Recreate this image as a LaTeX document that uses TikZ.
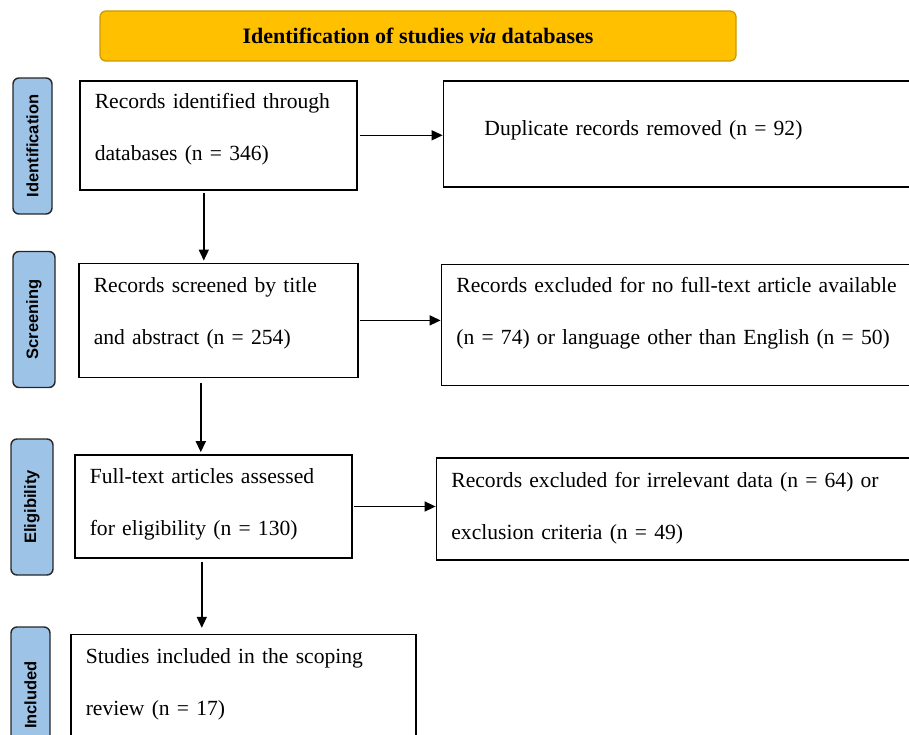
\documentclass[tikz,border=0pt]{standalone}
\usepackage{fontspec}
\setmainfont{Liberation Serif}
\newfontfamily\phasefont{Liberation Sans}
\usetikzlibrary{positioning, arrows.meta}
\definecolor{bannergold}{HTML}{FFC000}
\definecolor{bannerrim}{HTML}{C99A00}
\definecolor{phaseblue}{HTML}{9DC3E6}
\tikzset{
    >={Triangle[length=11pt, width=10pt]},
    every edge/.style={draw, ->, line width=1.5pt},
    box/.style={draw, line width=1.6pt, inner xsep=15pt, inner ysep=0pt,
        align=left, font=\fontsize{21.6}{52}\selectfont},
    phase/.style={draw=black!85, line width=1.4pt, fill=phaseblue,
        rounded corners=6pt, rotate=90, minimum width=136pt, inner sep=0pt,
        font=\phasefont\bfseries\fontsize{16.5}{18}\selectfont},
    banner/.style={draw=bannerrim, line width=1.3pt, fill=bannergold,
        rounded corners=6pt, minimum width=636pt, minimum height=50pt,
        font=\bfseries\fontsize{22}{26}\selectfont},
}

\begin{document}
\begin{tikzpicture}[x=1pt, y=1pt]
        \useasboundingbox (0,0) rectangle (909,-735);
        \clip (0,0) rectangle (909,-735);

        \node[banner] (title) at (418,-36) {Identification of studies \textit{via} databases};

        \node[phase, minimum height=39pt] (identphase) at (32.5,-146) {Identification};
        \node[phase, minimum height=42pt] (screenphase) at (34,-319.5) {Screening};
        \node[phase, minimum height=42pt] (eligphase) at (32,-507) {Eligibility};
        \node[phase, minimum height=39pt] (inclphase) at (30.5,-695) {Included};

        \node[box, text width=247pt, text height=28pt, text depth=81pt, anchor=north west] (records) at (79,-80) {Records identified through\\databases (n = 346)};
        \node[box, text width=249pt, text height=29pt, text depth=85pt, below=72pt of records.south west, anchor=north west, xshift=-1pt] (screen) {Records screened by title\\and abstract (n = 254)};
        \node[box, text width=247pt, text height=28pt, text depth=75pt, below=76pt of screen.south west, anchor=north west, xshift=-4pt] (assess) {Full-text articles assessed\\for eligibility (n = 130)};
        \node[box, text width=315pt, text height=29pt, text depth=101pt, below=75pt of assess.south west, anchor=north west, xshift=-4pt] (included) {Studies included in the scoping\\review (n = 17)};

        \node[box, inner xsep=41pt, text width=406pt, text height=55pt, text depth=51pt, right=85pt of records.north east, anchor=north west] (dup) {Duplicate records removed (n = 92)};
        \node[box, text width=460pt, text height=28pt, text depth=93pt, right=82pt of screen.north east, anchor=north west, yshift=-1pt] (nofull) {Records excluded for no full-text article available\\(n = 74) or language other than English (n = 50)};
        \node[box, text width=465pt, text height=29pt, text depth=73pt, right=83pt of assess.north east, anchor=north west, yshift=-3pt] (irrelevant) {Records excluded for irrelevant data (n = 64) or\\exclusion criteria (n = 49)};

        \draw (records.east) edge[shorten <=2pt] (records.east -| dup.west)
              (screen.east) edge[shorten <=1pt] (screen.east -| nofull.west)
              (assess.east) edge[shorten <=1pt] (assess.east -| irrelevant.west)
              ([xshift=-14.5pt]records.south) edge[shorten <=2pt, shorten >=2pt] ([xshift=-14.5pt]records.south |- screen.north)
              ([xshift=-17.5pt]screen.south) edge[shorten <=5pt, shorten >=2pt] ([xshift=-17.5pt]screen.south |- assess.north)
              ([xshift=-11.5pt]assess.south) edge[shorten <=3pt, shorten >=6pt] ([xshift=-11.5pt]assess.south |- included.north)
              ;
    \end{tikzpicture}
\end{document}
